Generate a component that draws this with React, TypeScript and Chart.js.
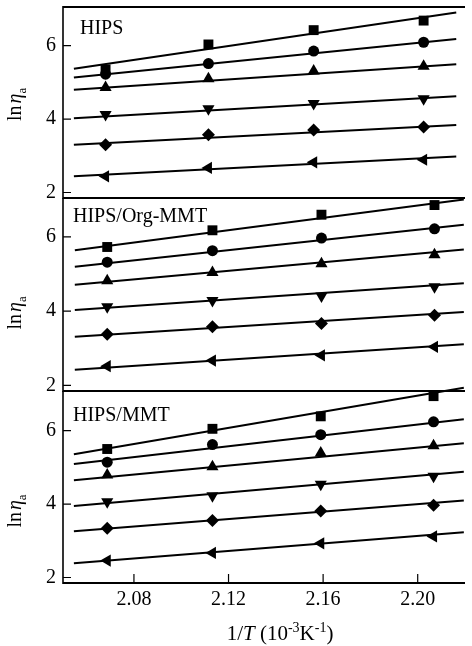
import React, { useEffect, useRef } from "react";
import { Chart, registerables } from "chart.js";

Chart.register(...registerables);

// ---------- axes ----------
const xTickValues = [2.08, 2.12, 2.16, 2.2];
const yTickValues = [2, 4, 6];
const xMin = 2.05;
const xMax = 2.22;
const yMin = 1.85;
const panelNames = ["HIPS", "HIPS/Org-MMT", "HIPS/MMT"];

// ---------- HIPS ----------
const hipsX = [2.068, 2.1115, 2.156, 2.2025];
const hipsSquare = [5.35, 6.03, 6.42, 6.68];
const hipsCircle = [5.22, 5.51, 5.85, 6.09];
const hipsUp = [4.86, 5.1, 5.31, 5.44];
const hipsDown = [4.12, 4.28, 4.42, 4.55];
const hipsDiamond = [3.3, 3.57, 3.7, 3.78];
const hipsLeft = [2.44, 2.67, 2.82, 2.89];
const hipsFitX = [2.0546, 2.2163];
const hipsSquareFit = [5.37, 6.9];
const hipsCircleFit = [5.13, 6.18];
const hipsUpFit = [4.8, 5.49];
const hipsDownFit = [4.02, 4.62];
const hipsDiamondFit = [3.3, 3.84];
const hipsLeftFit = [2.44, 2.98];

// ---------- HIPS/Org-MMT ----------
const orgX = [2.0687, 2.1132, 2.1593, 2.2071];
const orgSquare = [5.73, 6.18, 6.6, 6.86];
const orgCircle = [5.32, 5.63, 5.97, 6.22];
const orgUp = [4.82, 5.04, 5.28, 5.52];
const orgDown = [4.12, 4.29, 4.41, 4.66];
const orgDiamond = [3.38, 3.58, 3.67, 3.89];
const orgLeft = [2.52, 2.67, 2.81, 3.04];
const orgFitX = [2.055, 2.2195];
const orgSquareFit = [5.64, 7.01];
const orgCircleFit = [5.2, 6.33];
const orgUpFit = [4.71, 5.66];
const orgDownFit = [4.03, 4.75];
const orgDiamondFit = [3.31, 3.98];
const orgLeftFit = [2.42, 3.11];

// ---------- HIPS/MMT ----------
const mmtX = [2.0687, 2.1132, 2.159, 2.2067];
const mmtSquare = [5.5, 6.05, 6.39, 6.94];
const mmtCircle = [5.14, 5.62, 5.89, 6.24];
const mmtUp = [4.79, 5.02, 5.39, 5.59];
const mmtDown = [4.06, 4.23, 4.54, 4.76];
const mmtDiamond = [3.34, 3.55, 3.81, 3.97];
const mmtLeft = [2.46, 2.67, 2.93, 3.12];
const mmtFitX = [2.0546, 2.2195];
const mmtSquareFit = [5.36, 7.17];
const mmtCircleFit = [5.09, 6.31];
const mmtUpFit = [4.65, 5.66];
const mmtDownFit = [3.95, 4.88];
const mmtDiamondFit = [3.26, 4.1];
const mmtLeftFit = [2.39, 3.23];

const SERIF = '"Liberation Serif", "DejaVu Serif", serif';

const markerStyles = [
  { pointStyle: "rect", radius: 7, rotation: 0 },
  { pointStyle: "circle", radius: 5.5, rotation: 0 },
  { pointStyle: "triangle", radius: 7, rotation: 0 },
  { pointStyle: "triangle", radius: 7, rotation: 180 },
  { pointStyle: "rectRot", radius: 6.5, rotation: 0 },
  { pointStyle: "triangle", radius: 7, rotation: 270 },
];

const panels = [
  {
    name: panelNames[0],
    x: hipsX,
    series: [hipsSquare, hipsCircle, hipsUp, hipsDown, hipsDiamond, hipsLeft],
    fitX: hipsFitX,
    fits: [hipsSquareFit, hipsCircleFit, hipsUpFit, hipsDownFit, hipsDiamondFit, hipsLeftFit],
    yMax: 7.05,
    padTop: 6,
    padBottom: 448,
    bottomAxis: false,
    drawTop: true,
    titleFrac: 0.51,
    labelDx: 17,
    labelDy: 27,
  },
  {
    name: panelNames[1],
    x: orgX,
    series: [orgSquare, orgCircle, orgUp, orgDown, orgDiamond, orgLeft],
    fitX: orgFitX,
    fits: [orgSquareFit, orgCircleFit, orgUpFit, orgDownFit, orgDiamondFit, orgLeftFit],
    yMax: 7.05,
    padTop: 198,
    padBottom: 255,
    bottomAxis: false,
    drawTop: false,
    titleFrac: 0.595,
    labelDx: 10,
    labelDy: 24,
  },
  {
    name: panelNames[2],
    x: mmtX,
    series: [mmtSquare, mmtCircle, mmtUp, mmtDown, mmtDiamond, mmtLeft],
    fitX: mmtFitX,
    fits: [mmtSquareFit, mmtCircleFit, mmtUpFit, mmtDownFit, mmtDiamondFit, mmtLeftFit],
    yMax: 7.08,
    padTop: 391,
    padBottom: 0,
    bottomAxis: true,
    drawTop: false,
    titleFrac: 0.625,
    labelDx: 10,
    labelDy: 30,
  },
];

const framePlugin = {
  id: "frame",
  afterDraw(chart: any, _args: any, opts: any) {
    const { ctx, chartArea: a } = chart;
    const ys = chart.scales.y;
    const xs = chart.scales.x;
    ctx.save();
    ctx.strokeStyle = "#000";
    // left axis
    ctx.lineWidth = 1.6;
    ctx.beginPath();
    ctx.moveTo(a.left, a.top - (opts.drawTop ? 1 : 0));
    ctx.lineTo(a.left, a.bottom + 1);
    ctx.stroke();
    // top / bottom lines
    ctx.lineWidth = 2;
    ctx.beginPath();
    if (opts.drawTop) {
      ctx.moveTo(a.left, a.top);
      ctx.lineTo(a.right, a.top);
    }
    ctx.moveTo(a.left, a.bottom);
    ctx.lineTo(a.right, a.bottom);
    ctx.stroke();
    // inward ticks
    ctx.lineWidth = 1.2;
    ctx.beginPath();
    yTickValues.forEach((v) => {
      const py = ys.getPixelForValue(v);
      ctx.moveTo(a.left, py);
      ctx.lineTo(a.left + 8, py);
    });
    if (opts.bottomAxis) {
      xTickValues.forEach((v) => {
        const px = xs.getPixelForValue(v);
        ctx.moveTo(px, a.bottom);
        ctx.lineTo(px, a.bottom - 9);
      });
    }
    ctx.stroke();

    // panel label
    ctx.fillStyle = "#000";
    ctx.textAlign = "left";
    ctx.textBaseline = "alphabetic";
    ctx.font = `20px ${SERIF}`;
    ctx.fillText(opts.name, a.left + opts.labelDx, a.top + opts.labelDy);

    // y title: ln η_a
    const cy = a.top + (a.bottom - a.top) * opts.titleFrac;
    ctx.save();
    ctx.translate(21, cy);
    ctx.rotate(-Math.PI / 2);
    ctx.font = `20px ${SERIF}`;
    const wLn = ctx.measureText("ln").width;
    ctx.font = `italic 20px ${SERIF}`;
    const wEta = ctx.measureText("η").width;
    ctx.font = `13px ${SERIF}`;
    const wA = ctx.measureText("a").width;
    const gap = 2;
    const total = wLn + gap + wEta + wA;
    let sx = -total / 2;
    ctx.font = `20px ${SERIF}`;
    ctx.fillText("ln", sx, 0);
    sx += wLn + gap;
    ctx.font = `italic 20px ${SERIF}`;
    ctx.fillText("η", sx, 0);
    sx += wEta;
    ctx.font = `13px ${SERIF}`;
    ctx.fillText("a", sx, 5);
    ctx.restore();

    // x title
    if (opts.bottomAxis) {
      const pieces = [
        { t: "1/", f: `21px ${SERIF}`, dy: 0 },
        { t: "T", f: `italic 21px ${SERIF}`, dy: 0 },
        { t: " (10", f: `21px ${SERIF}`, dy: 0 },
        { t: "-3", f: `14px ${SERIF}`, dy: -8 },
        { t: "K", f: `21px ${SERIF}`, dy: 0 },
        { t: "-1", f: `14px ${SERIF}`, dy: -8 },
        { t: ")", f: `21px ${SERIF}`, dy: 0 },
      ];
      let tw = 0;
      const widths = pieces.map((p) => {
        ctx.font = p.f;
        const w = ctx.measureText(p.t).width;
        tw += w;
        return w;
      });
      let px = (a.left + a.right) / 2 + 16 - tw / 2;
      const base = 640;
      pieces.forEach((p, i) => {
        ctx.font = p.f;
        ctx.fillText(p.t, px, base + p.dy);
        px += widths[i];
      });
    }
    ctx.restore();
  },
};

function buildConfig(p: any): any {
  const datasets: any[] = [];
  p.series.forEach((vals: number[], i: number) => {
    const m = markerStyles[i];
    datasets.push({
      data: p.x.map((xv: number, j: number) => ({ x: xv, y: vals[j] })),
      showLine: false,
      pointStyle: m.pointStyle,
      pointRadius: m.radius,
      pointRotation: m.rotation,
      pointBackgroundColor: "#000",
      pointBorderColor: "#000",
      pointBorderWidth: 0,
      clip: false,
    });
  });
  p.fits.forEach((vals: number[]) => {
    datasets.push({
      data: p.fitX.map((xv: number, j: number) => ({ x: xv, y: vals[j] })),
      showLine: true,
      borderColor: "#000",
      borderWidth: 2,
      pointRadius: 0,
      tension: 0,
      clip: false,
    });
  });

  return {
    type: "scatter",
    data: { datasets },
    plugins: [framePlugin],
    options: {
      responsive: false,
      animation: false,
      devicePixelRatio: 1,
      events: [],
      layout: { padding: { top: p.padTop, bottom: p.padBottom, left: 0, right: 0 } },
      plugins: {
        legend: { display: false },
        tooltip: { enabled: false },
        frame: {
          name: p.name,
          drawTop: p.drawTop,
          bottomAxis: p.bottomAxis,
          titleFrac: p.titleFrac,
          labelDx: p.labelDx,
          labelDy: p.labelDy,
        },
      },
      scales: {
        x: {
          type: "linear",
          min: xMin,
          max: xMax,
          display: p.bottomAxis,
          grid: { display: false, drawTicks: false },
          border: { display: false },
          afterBuildTicks: (s: any) => {
            s.ticks = xTickValues.map((v) => ({ value: v }));
          },
          afterFit: (s: any) => {
            s.height = p.bottomAxis ? 63 : 0;
            s.paddingLeft = 0;
            s.paddingRight = 0;
          },
          ticks: {
            color: "#000",
            font: { family: SERIF, size: 20 },
            padding: 5,
            maxRotation: 0,
            autoSkip: false,
            callback: (v: any) => Number(v).toFixed(2),
          },
        },
        y: {
          type: "linear",
          min: yMin,
          max: p.yMax,
          grid: { display: false, drawTicks: false },
          border: { display: false },
          afterBuildTicks: (s: any) => {
            s.ticks = yTickValues.map((v) => ({ value: v }));
          },
          afterFit: (s: any) => {
            s.width = 63;
            s.paddingTop = 0;
            s.paddingBottom = 0;
          },
          ticks: {
            color: "#000",
            font: { family: SERIF, size: 20 },
            padding: 7,
            callback: (v: any) => String(v),
          },
        },
      },
    },
  };
}

export default function App() {
  const refs = useRef<(HTMLCanvasElement | null)[]>([]);
  useEffect(() => {
    const charts = panels.map((p, i) => new Chart(refs.current[i] as HTMLCanvasElement, buildConfig(p)));
    return () => charts.forEach((c) => c.destroy());
  }, []);
  return (
    <div style={{ position: "fixed", left: 0, top: 0, width: 472, height: 646, background: "#fff" }}>
      {panels.map((p, i) => (
        <canvas
          key={i}
          ref={(el) => {
            refs.current[i] = el;
          }}
          width={472}
          height={646}
          style={{ position: "absolute", left: 0, top: 0, width: 472, height: 646 }}
        />
      ))}
    </div>
  );
}
